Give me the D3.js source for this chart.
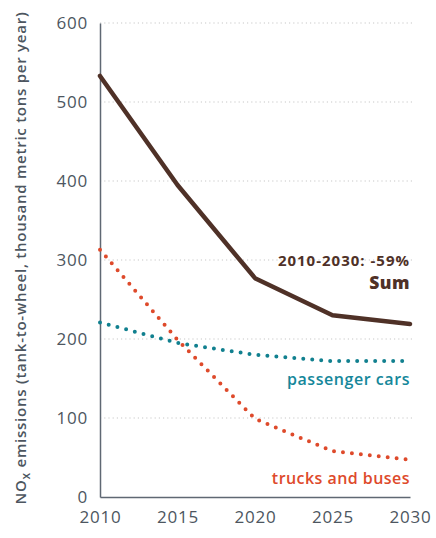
<!DOCTYPE html>
<html>
<head>
<meta charset="utf-8">
<script src="https://cdn.jsdelivr.net/npm/d3@7"></script>
<style>
  body { margin: 0; background: #fff; }
  text { font-family: "Open Sans", Lato, sans-serif; }
</style>
</head>
<body>
<div id="chart"></div>
<script>
const width = 436
const height = 538

// data
const years = [2010, 2015, 2020, 2025, 2030]
const sumValues = [533, 395, 277, 230, 219]
const carValues = [221, 195, 180, 172, 172]
const truckValues = [313, 199, 99, 58, 47]
const yTicks = [0, 100, 200, 300, 400, 500, 600]

const margin = {top: 23, right: 26, bottom: 41, left: 100}

const x = d3.scaleLinear()
    .domain([2010, 2030])
    .range([margin.left, width - margin.right])

const y = d3.scaleLinear()
    .domain([0, 600])
    .range([height - margin.bottom, margin.top])

const svg = d3.select('#chart')
    .append('svg')
    .attr('width', width)
    .attr('height', height)

// dotted grid
svg.append('g')
    .selectAll('line')
    .data(yTicks.filter(d => d > 0))
    .enter()
    .append('line')
    .attr('x1', x(2010))
    .attr('x2', x(2030) + 2)
    .attr('y1', d => y(d))
    .attr('y2', d => y(d))
    .attr('stroke', '#c8c8c8')
    .attr('stroke-width', 1.2)
    .attr('stroke-dasharray', '1.2 3')

const yAxis = svg.append('g')
    .attr('transform', `translate(${margin.left},0)`)
    .call(d3.axisLeft(y).tickValues(yTicks).tickSize(0).tickPadding(12))
yAxis.select('.domain').attr('stroke', '#5f6873').attr('stroke-width', 1.5)

const xAxis = svg.append('g')
    .attr('transform', `translate(0,${y(0)})`)
    .call(d3.axisBottom(x).tickValues(years).tickFormat(d3.format('d')).tickSize(0).tickPadding(14))
xAxis.select('.domain').attr('stroke', '#5f6873').attr('stroke-width', 1.5)

svg.selectAll('.tick text')
    .attr('fill', '#4d5660')
    .style('font-size', '17px')
    .style('letter-spacing', '0.8px')

// axis title
const title = svg.append('text')
    .attr('transform', `translate(26,${(margin.top + y(0)) / 2 - 2}) rotate(-90)`)
    .attr('text-anchor', 'middle')
    .attr('fill', '#4d5660')
    .style('font-size', '15px')
    .style('font-weight', 600)
    .style('letter-spacing', '0.75px')
title.append('tspan').text('NO')
title.append('tspan').text('x').attr('dy', 4).style('font-size', '12px')
title.append('tspan').text(' emissions (tank-to-wheel, thousand metric tons per year)').attr('dy', -4)

const line = d3.line()
    .x((d, i) => x(years[i]))
    .y(d => y(d))

svg.append('path')
    .datum(truckValues)
    .attr('d', line)
    .attr('fill', 'none')
    .attr('stroke', '#de4a2b')
    .attr('stroke-width', 4)
    .attr('stroke-linecap', 'round')
    .attr('stroke-dasharray', '0 9')

svg.append('path')
    .datum(carValues)
    .attr('d', line)
    .attr('fill', 'none')
    .attr('stroke', '#11808f')
    .attr('stroke-width', 4)
    .attr('stroke-linecap', 'round')
    .attr('stroke-dasharray', '0 9')

svg.append('path')
    .datum(sumValues)
    .attr('d', line)
    .attr('fill', 'none')
    .attr('stroke', '#4f3127')
    .attr('stroke-width', 4.5)
    .attr('stroke-linecap', 'round')
    .attr('stroke-linejoin', 'round')

// labels
const lx = x(2030)
svg.append('text')
    .attr('x', lx).attr('y', 266)
    .attr('text-anchor', 'end')
    .attr('fill', '#4f3127')
    .style('font-size', '15px')
    .style('font-weight', 700)
    .style('letter-spacing', '1px')
    .text('2010-2030: -59%')

svg.append('text')
    .attr('x', lx).attr('y', 289)
    .attr('text-anchor', 'end')
    .attr('fill', '#4f3127')
    .style('font-size', '17.5px')
    .style('font-weight', 800)
    .style('letter-spacing', '0.5px')
    .text('Sum')

svg.append('text')
    .attr('x', lx).attr('y', 385)
    .attr('text-anchor', 'end')
    .attr('fill', '#15879a')
    .style('font-size', '16px')
    .style('font-weight', 600)
    .style('letter-spacing', '0.55px')
    .text('passenger cars')

svg.append('text')
    .attr('x', lx).attr('y', 484)
    .attr('text-anchor', 'end')
    .attr('fill', '#de4a2b')
    .style('font-size', '16px')
    .style('font-weight', 600)
    .style('letter-spacing', '0.45px')
    .text('trucks and buses')
</script>
</body>
</html>
